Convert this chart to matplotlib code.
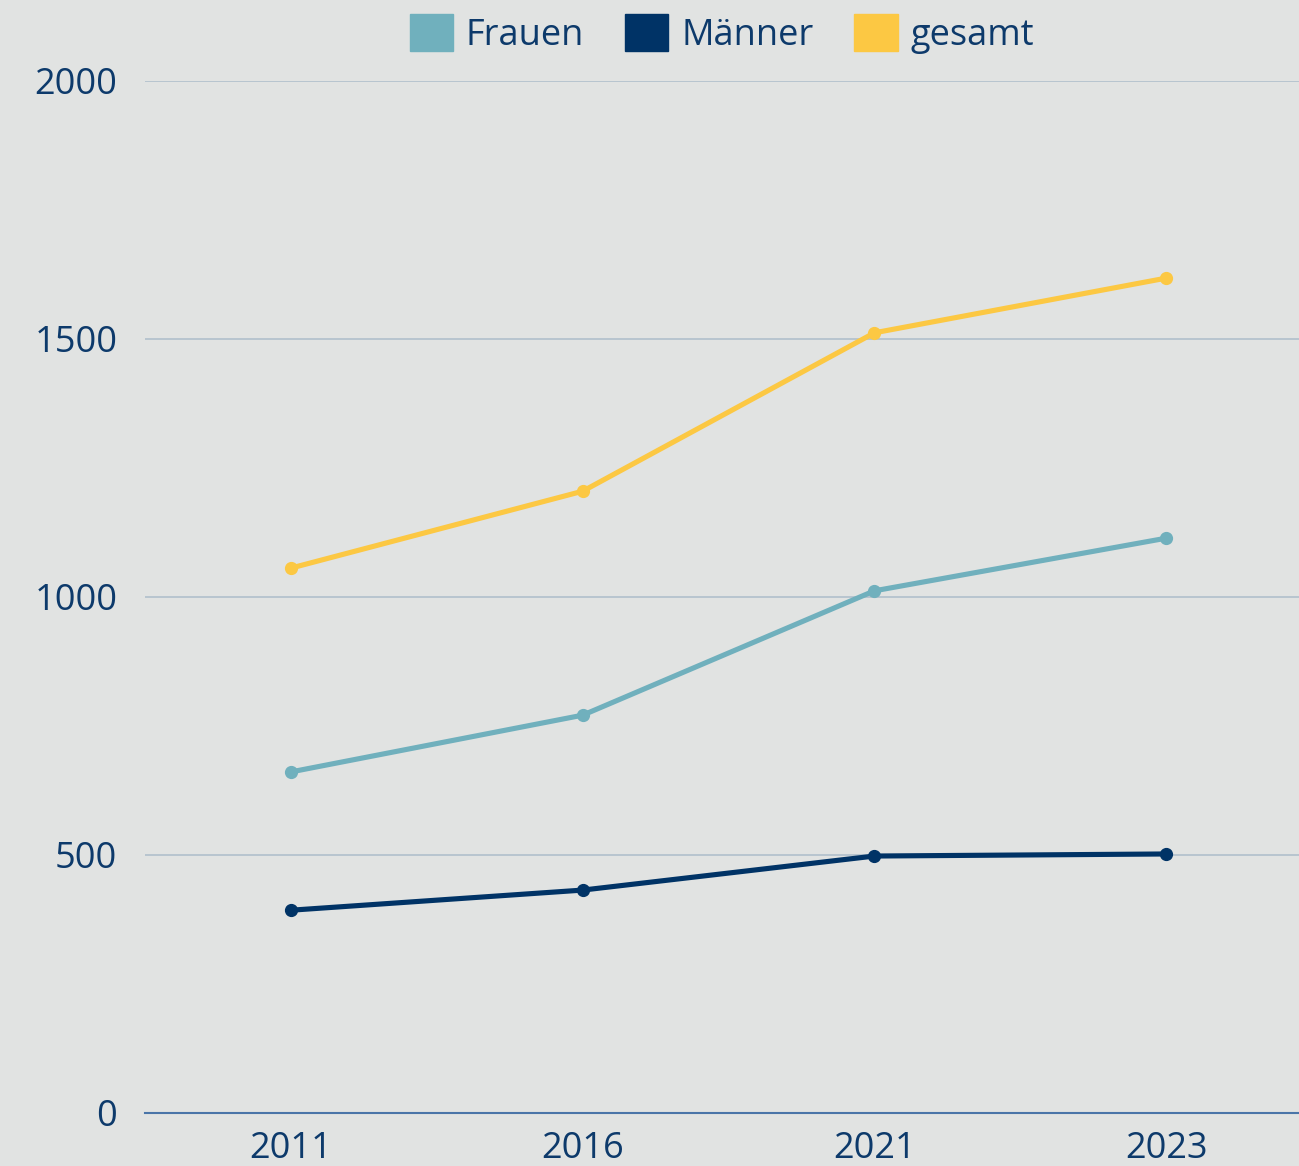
import matplotlib.pyplot as plt
from matplotlib.patches import Patch

years = ['2011', '2016', '2021', '2023']
frauen = [661, 771, 1012, 1114]
maenner = [393, 432, 498, 502]
gesamt = [1056, 1205, 1512, 1618]

bg = '#e1e3e2'
txt = '#0d3a6b'
c_frauen = '#70b0bd'
c_maenner = '#003366'
c_gesamt = '#fcc843'

plt.rcParams['font.family'] = ['Open Sans', 'DejaVu Sans']

fig = plt.figure(figsize=(12.99, 11.66), dpi=100, facecolor=bg)
ax = fig.add_axes([145 / 1299, 1 - 1113 / 1166, 1 - 145 / 1299, (1113 - 81) / 1166])
ax.set_facecolor(bg)

x = list(range(len(years)))
ax.plot(x, gesamt, color=c_gesamt, lw=3.7, marker='o', ms=8.5, zorder=3)
ax.plot(x, frauen, color=c_frauen, lw=3.7, marker='o', ms=8.5, zorder=3)
ax.plot(x, maenner, color=c_maenner, lw=3.7, marker='o', ms=8.5, zorder=3)

ax.set_ylim(0, 2000)
ax.set_xlim(-0.5, 3.455)
ax.set_yticks([0, 500, 1000, 1500, 2000])
ax.set_xticks(x)
ax.set_xticklabels(years)
ax.grid(axis='y', color='#b0bfcc', lw=1.2, zorder=0)
ax.tick_params(axis='both', length=0, labelsize=26, colors=txt)
ax.tick_params(axis='y', pad=20)
ax.tick_params(axis='x', pad=13)
for s in ['top', 'right', 'left']:
    ax.spines[s].set_visible(False)
ax.spines['bottom'].set_color('#4a75a8')
ax.spines['bottom'].set_linewidth(1.5)

handles = [Patch(color=c_frauen, label='Frauen'),
           Patch(color=c_maenner, label='Männer'),
           Patch(color=c_gesamt, label='gesamt')]
fig.legend(handles=handles, loc='center', bbox_to_anchor=(722 / 1299, 1 - 34 / 1166),
           ncol=3, frameon=False, fontsize=26, labelcolor=txt,
           handlelength=1.2, handleheight=1.2, handletextpad=0.36, columnspacing=1.13)

fig.savefig('out.png', dpi=100, facecolor=bg)
